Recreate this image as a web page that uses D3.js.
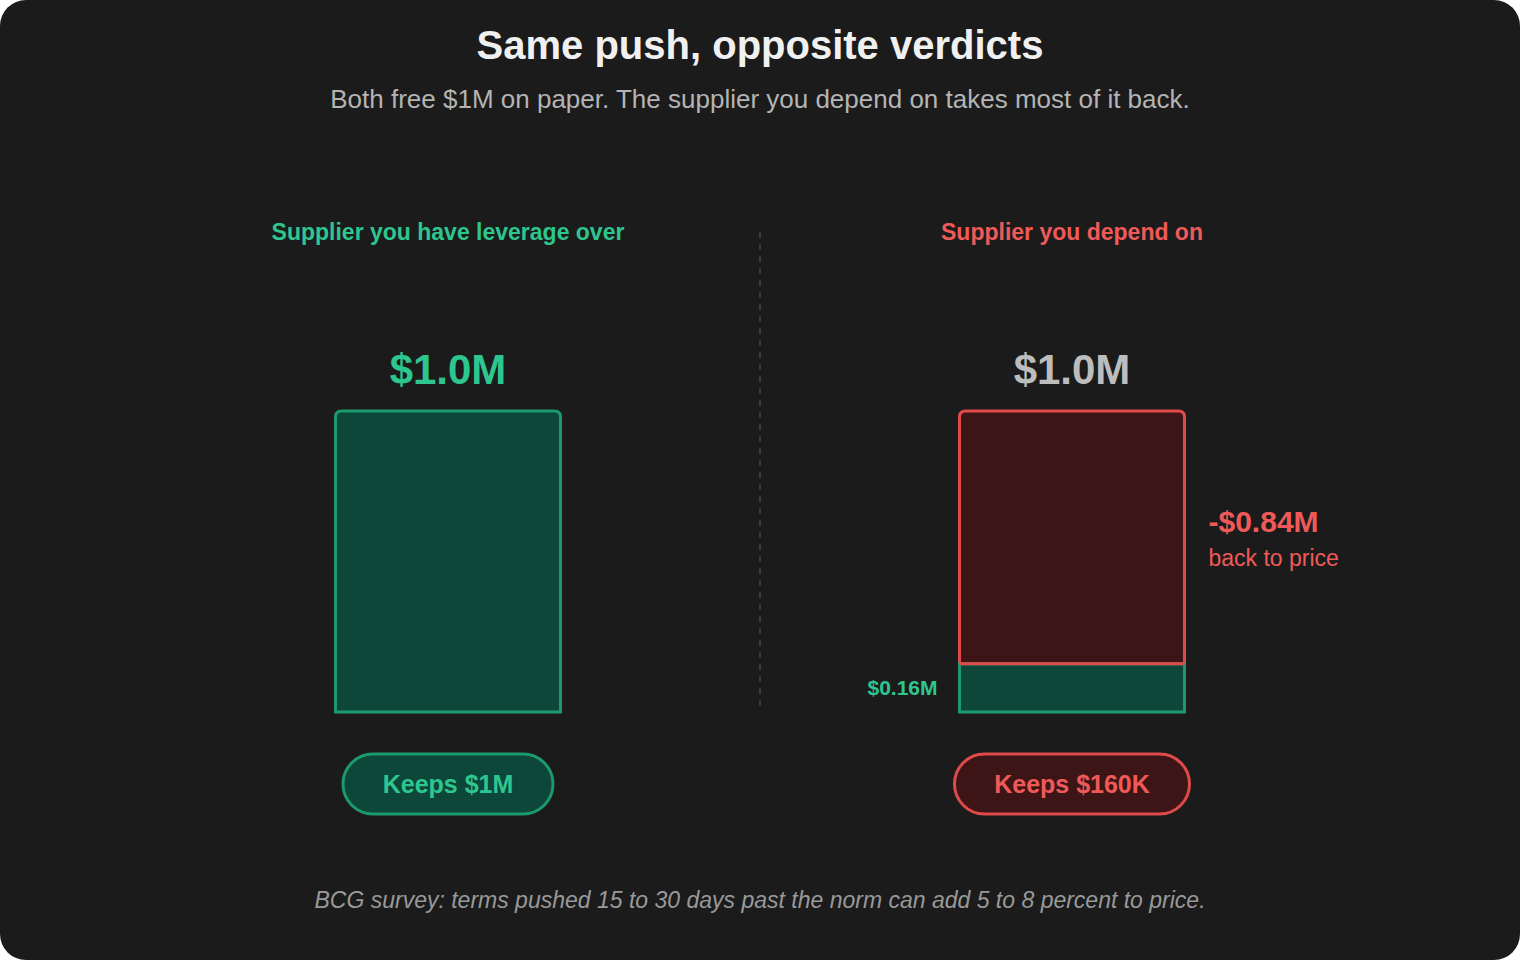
<!DOCTYPE html>
<html><head><meta charset="utf-8">
<script src="https://cdn.jsdelivr.net/npm/d3@7"></script>
<style>
html,body{margin:0;padding:0;background:#fff;}
svg{display:block;font-family:"Liberation Sans",Arial,sans-serif;}
</style></head>
<body>
<script>
// data
const panels = ["Supplier you have leverage over", "Supplier you depend on"];
const totals = [1.0, 1.0];
const kept = [1.0, 0.16];
const clawback = [0, 0.84];
const pills = ["Keeps $1M", "Keeps $160K"];

const W = 1520, H = 960;
const green = "#2ec68f", greenFill = "#0d473a", greenStroke = "#1c9a6e";
const red = "#ef5a58", redFill = "#3d1516", redStroke = "#e04a4a";

const svg = d3.select("body").append("svg").attr("width", W).attr("height", H);
svg.append("rect").attr("width", W).attr("height", H).attr("rx", 26).attr("fill", "#1b1b1b");

svg.append("text").attr("x", W/2).attr("y", 59).attr("text-anchor", "middle")
  .attr("fill", "#f0f0f0").attr("font-size", 40).attr("font-weight", "bold")
  .text("Same push, opposite verdicts");
svg.append("text").attr("x", W/2).attr("y", 108).attr("text-anchor", "middle")
  .attr("fill", "#b4b4b4").attr("font-size", 26)
  .text("Both free $1M on paper. The supplier you depend on takes most of it back.");

const x = d3.scaleBand().domain(panels).range([136, 1384]);
const y = d3.scaleLinear().domain([0, 1]).range([712, 411]);
const bw = 225;

svg.append("line").attr("x1", 760).attr("x2", 760).attr("y1", 232).attr("y2", 708)
  .attr("stroke", "#3a3a3a").attr("stroke-width", 2).attr("stroke-dasharray", "6,6");

panels.forEach((p, i) => {
  const cx = x(p) + x.bandwidth()/2;
  const x0 = cx - bw/2;
  const col = i === 0 ? green : red;
  svg.append("text").attr("x", cx).attr("y", 240).attr("text-anchor", "middle")
    .attr("fill", col).attr("font-size", 23).attr("font-weight", "bold").text(p);
  svg.append("text").attr("x", cx).attr("y", 384).attr("text-anchor", "middle")
    .attr("fill", i === 0 ? green : "#bdbdbd").attr("font-size", 42).attr("font-weight", "bold")
    .text("$" + totals[i].toFixed(1) + "M");

  if (i === 0) {
    svg.append("path")
      .attr("d", `M${x0},${y(0)} V${y(kept[i])+6} Q${x0},${y(kept[i])} ${x0+6},${y(kept[i])} H${x0+bw-6} Q${x0+bw},${y(kept[i])} ${x0+bw},${y(kept[i])+6} V${y(0)} Z`)
      .attr("fill", greenFill).attr("stroke", greenStroke).attr("stroke-width", 3);
  } else {
    const top = y(kept[i] + clawback[i]);
    svg.append("path")
      .attr("d", `M${x0},${y(kept[i])} V${top+6} Q${x0},${top} ${x0+6},${top} H${x0+bw-6} Q${x0+bw},${top} ${x0+bw},${top+6} V${y(kept[i])} Z`)
      .attr("fill", redFill).attr("stroke", redStroke).attr("stroke-width", 3);
    svg.append("rect").attr("x", x0).attr("y", y(kept[i])).attr("width", bw)
      .attr("height", y(0) - y(kept[i])).attr("fill", greenFill).attr("stroke", greenStroke).attr("stroke-width", 3);
    svg.append("line").attr("x1", x0).attr("x2", x0 + bw).attr("y1", y(kept[i])).attr("y2", y(kept[i]))
      .attr("stroke", redStroke).attr("stroke-width", 3);
    svg.append("text").attr("x", x0 - 22).attr("y", y(kept[i]/2) + 7).attr("text-anchor", "end")
      .attr("fill", green).attr("font-size", 21).attr("font-weight", "bold").text("$" + kept[i] + "M");
    const my = y(kept[i] + clawback[i]/2);
    svg.append("text").attr("x", x0 + bw + 24).attr("y", my - 5)
      .attr("fill", red).attr("font-size", 30).attr("font-weight", "bold").text("-$" + clawback[i] + "M");
    svg.append("text").attr("x", x0 + bw + 24).attr("y", my + 29)
      .attr("fill", red).attr("font-size", 23).text("back to price");
  }

  const pw = i === 0 ? 210 : 235;
  svg.append("rect").attr("x", cx - pw/2).attr("y", 754).attr("width", pw).attr("height", 60).attr("rx", 30)
    .attr("fill", i === 0 ? greenFill : redFill).attr("stroke", i === 0 ? greenStroke : redStroke).attr("stroke-width", 3);
  svg.append("text").attr("x", cx).attr("y", 793).attr("text-anchor", "middle")
    .attr("fill", col).attr("font-size", 25).attr("font-weight", "bold").text(pills[i]);
});

svg.append("text").attr("x", W/2).attr("y", 908).attr("text-anchor", "middle")
  .attr("fill", "#999").attr("font-size", 23).attr("font-style", "italic")
  .text("BCG survey: terms pushed 15 to 30 days past the norm can add 5 to 8 percent to price.");
</script>
</body></html>
